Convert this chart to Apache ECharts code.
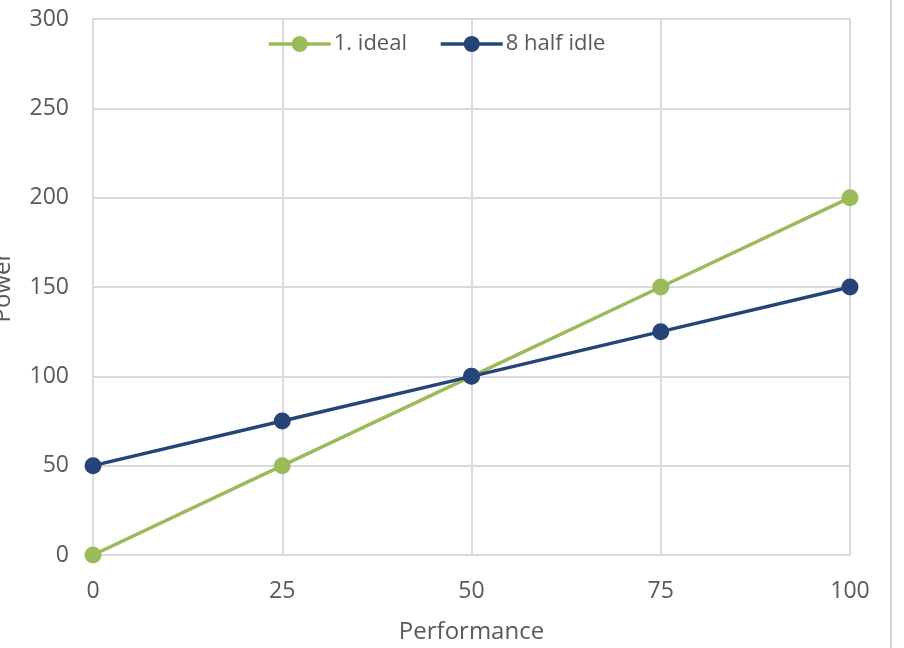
<!DOCTYPE html>
<html>
<head>
<meta charset="utf-8">
<style>
  html, body { margin: 0; padding: 0; background: #ffffff; }
  #chart { width: 904px; height: 648px; }
</style>
<script src="https://cdn.jsdelivr.net/npm/echarts@6/dist/echarts.min.js"></script>
</head>
<body>
<div id="chart"></div>
<script>
// Power versus performance for two server models
const performance = [0, 25, 50, 75, 100];
const idealPower = [0, 50, 100, 150, 200];
const halfIdlePower = [50, 75, 100, 125, 150];
const seriesNames = ['1. ideal', '8 half idle'];

const labelFont = '"Open Sans", Lato, sans-serif';
const textColor = '#595959';
const gridColor = '#d9d9d9';

const chart = echarts.init(document.getElementById('chart'), null, { renderer: 'canvas' });

function pairs(xs, ys) {
  return xs.map((x, i) => [x, ys[i]]);
}

chart.setOption({
  animation: false,
  backgroundColor: '#ffffff',
  grid: { left: 93, right: 54, top: 19, bottom: 93, containLabel: false, outerBoundsMode: 'none' },
  legend: {
    top: 28,
    left: 262,
    itemWidth: 62,
    itemHeight: 20,
    itemGap: 32,
    lineStyle: { width: 3.5 },
    textStyle: { fontFamily: labelFont, fontSize: 22, color: textColor, padding: [0, 0, 0, -2] },
    data: seriesNames
  },
  xAxis: {
    type: 'value',
    min: 0,
    max: 100,
    interval: 25,
    name: 'Performance',
    nameLocation: 'middle',
    nameGap: 65,
    nameTextStyle: { fontFamily: labelFont, fontSize: 24, color: textColor },
    axisLine: { show: true, lineStyle: { color: gridColor, width: 2 } },
    axisTick: { show: false },
    axisLabel: { fontFamily: labelFont, fontSize: 23, color: textColor, margin: 25 },
    splitLine: { show: true, lineStyle: { color: gridColor, width: 2 } }
  },
  yAxis: {
    type: 'value',
    min: 0,
    max: 300,
    interval: 50,
    name: 'Power',
    nameLocation: 'middle',
    nameGap: 78,
    nameTextStyle: { fontFamily: labelFont, fontSize: 24, color: textColor },
    axisLine: { show: true, lineStyle: { color: gridColor, width: 2 } },
    axisTick: { show: false },
    axisLabel: { fontFamily: labelFont, fontSize: 23, color: textColor, margin: 24, padding: [3, 0, 0, 0] },
    splitLine: { show: true, lineStyle: { color: gridColor, width: 2 } }
  },
  graphic: [
    {
      type: 'line',
      shape: { x1: 850, y1: 19, x2: 850, y2: 555 },
      style: { stroke: gridColor, lineWidth: 2 },
      z: 0
    },
    {
      type: 'line',
      shape: { x1: 891, y1: 0, x2: 891, y2: 648 },
      style: { stroke: '#d0d0d0', lineWidth: 2 }
    }
  ],
  series: [
    {
      name: seriesNames[0],
      type: 'line',
      data: pairs(performance, idealPower),
      symbol: 'circle',
      symbolSize: 17,
      lineStyle: { color: '#9bbb59', width: 3.5 },
      itemStyle: { color: '#9bbb59' },
      z: 3
    },
    {
      name: seriesNames[1],
      type: 'line',
      data: pairs(performance, halfIdlePower),
      symbol: 'circle',
      symbolSize: 17,
      lineStyle: { color: '#264478', width: 3.5 },
      itemStyle: { color: '#264478' },
      z: 4
    }
  ]
});
</script>
</body>
</html>
